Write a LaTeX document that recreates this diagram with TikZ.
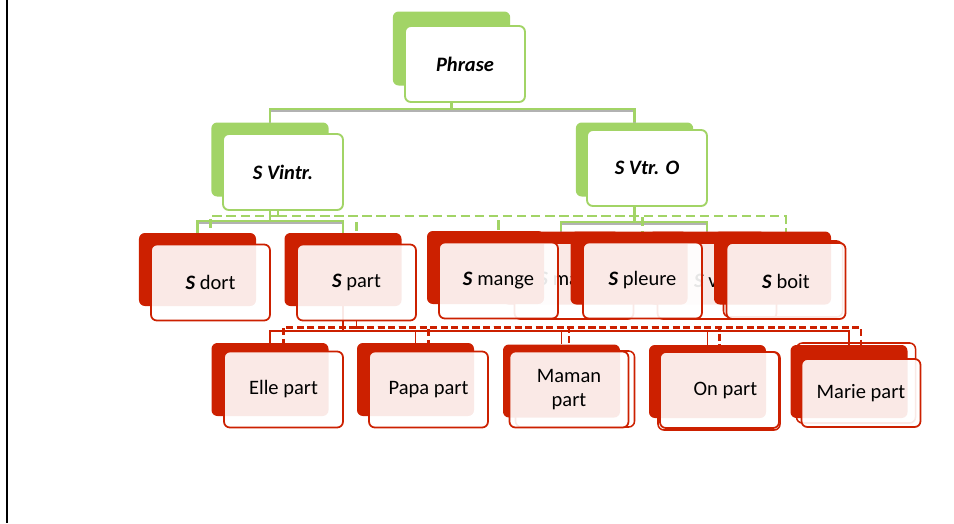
\documentclass[tikz,border=0pt]{standalone}
\usepackage{fontspec}
\setmainfont{Carlito}
\usetikzlibrary{backgrounds}
\definecolor{leafgreen}{RGB}{162,212,102}
\definecolor{deepred}{RGB}{204,32,0}
\tikzset{
  boxfont/.style={font=\fontsize{17.5}{20}\selectfont},
  greenback/.style={fill=leafgreen, rounded corners=5pt, minimum width=3.52cm, minimum height=2.22cm, inner sep=0pt},
  greenfront/.style={draw=leafgreen, line width=1.6pt, fill=white, rounded corners=5pt, minimum width=3.6cm, minimum height=2.28cm, inner sep=0pt, font=\fontsize{17.5}{20}\selectfont\bfseries\itshape},
  redback/.style={fill=deepred, rounded corners=5pt, minimum width=3.51cm, minimum height=2.19cm, inner sep=0pt},
  redfront/.style={draw=deepred, line width=1.5pt, fill=white, fill opacity=0.9, text opacity=1, rounded corners=5pt, minimum width=3.57cm, minimum height=2.28cm, inner sep=0pt, align=center},
  redcopy/.style={draw=deepred, line width=1.3pt, rounded corners=5pt, minimum width=3.57cm, minimum height=2.28cm, inner sep=0pt},
  greenbus/.style={draw=leafgreen, line width=2pt},
  greyshade/.style={draw=black!30, line width=1.8pt, transform canvas={yshift=-1.5pt}},
  greendash/.style={draw=leafgreen, line width=2pt, dash pattern=on 8pt off 4pt},
  redbus/.style={draw=deepred, line width=1.6pt},
  reddash/.style={draw=deepred, line width=1.8pt, dash pattern=on 6pt off 3pt},
}
\newcommand{\bS}{\textbf{\textit{S}}}
\begin{document}
\begin{tikzpicture}[x=0.03cm, y=-0.03cm, boxfont]
  \useasboundingbox (0,0) rectangle (954,523);
  \draw[black, line width=1.4pt] (7,0) -- (7,523);

  % top level
  \node[greenback] (phraseB) at (451.5,48.5) {};
  \node[greenfront] (phrase) at (465,64) {Phrase};
  \node[greenback] (vintrB) at (270,159.5) {};
  \node[greenfront] (vintr) at (283,172) {S Vintr.};
  \node[greenback] (vtroB) at (634.5,159.5) {};
  \node[greenfront] (vtro) at (647,168) {S Vtr. O};

  % second level (two half hidden boxes first)
  \node[redback] (ghostaB) at (561,268) {};
  \node[redfront] (ghosta) at (574,281) {\bS{} mange};
  \node[redback] (ghostbB) at (707,268) {};
  \node[redfront] (ghostb) at (717,281) {\bS{} voit};
  \node[redback] (dortB) at (197.5,269.5) {};
  \node[redfront] (dort) at (210.5,282.5) {\bS{} dort};
  \node[redback] (partB) at (343,269.5) {};
  \node[redfront] (part) at (356.5,282.5) {\bS{} part};
  \node[redback] (mangeB) at (485.5,267.5) {};
  \node[redfront] (mange) at (498.5,280.5) {\bS{} mange};
  \node[redback] (pleureB) at (629,268) {};
  \node[redfront] (pleure) at (642.5,280.5) {\bS{} pleure};
  \node[redback] (boitB) at (772.5,268) {};
  \node[redcopy] (boitcopy) at (783,279) {};
  \node[redfront] (boit) at (786,281) {\bS{} boit};

  % third level
  \node[redback] (elleB) at (270,379.5) {};
  \node[redfront] (elle) at (283.5,389.5) {Elle part};
  \node[redback] (papaB) at (415.5,379.5) {};
  \node[redfront] (papa) at (428.5,389.5) {Papa part};
  \node[redback] (mamanB) at (561.5,381) {};
  \node[redcopy] (mamancopy) at (575,389) {};
  \node[redfront] (maman) at (569,389.5) {Maman\\part};
  \node[redback] (onB) at (707.5,381.5) {};
  \node[redcopy, minimum width=3.66cm, minimum height=2.34cm] (oncopy) at (719,391) {};
  \node[redfront] (on) at (719.5,390) {\hspace{10pt}On part};
  \node[redback] (marieB) at (849,381.5) {};
  \node[redcopy, minimum height=2.4cm] (mariecopy) at (856,383) {};
  \node[redfront, minimum height=2.04cm] (marie) at (861,393) {Marie part};

  \begin{scope}[on background layer]
    % green links
    \coordinate (topbus) at (451.5,109);
    \draw[greyshade] (phraseB.south) -- (topbus) -| (vintrB.north);
    \draw[greyshade] (topbus) -| (vtroB.north);
    \draw[greenbus] (phraseB.south) -- (topbus) -| (vintrB.north);
    \draw[greenbus] (topbus) -| (vtroB.north);
    \coordinate (vintrbus) at (270,221);
    \draw[greyshade] (vintrB.south) -- (vintrbus) -| (dortB.north);
    \draw[greyshade] (vintrbus) -| (partB.north);
    \draw[greenbus] (vintrB.south) -- (vintrbus) -| (dortB.north);
    \draw[greenbus] (vintrbus) -| (partB.north);
    \coordinate (vtrobus) at (634.5,222);
    \draw[greyshade] (vtroB.south) -- (vtrobus) -| (ghostaB.north);
    \draw[greyshade] (vtrobus) -| (ghostbB.north);
    \draw[greenbus] (vtroB.south) -- (vtrobus) -| (ghostaB.north);
    \draw[greenbus] (vtrobus) -| (ghostbB.north);
    \coordinate (dashbus) at (278,216);
    \draw[greenbus] (vintr.south -| dashbus) -- (dashbus);
    \draw[greendash] (dashbus) -| (dort.north);
    \draw[greendash] (dashbus) -| (part.north);
    \draw[greendash] (dashbus) -| (mange.north);
    \draw[greendash] (dashbus) -| (pleure.north);
    \draw[greendash] (dashbus) -| (boit.north);
    % red links
    \coordinate (partbus) at (343,331);
    \draw[redbus] (partB.south) -- (partbus) -| (elleB.north);
    \draw[redbus] (partbus) -| (papaB.north);
    \draw[redbus] (partbus) -| (mamanB.north);
    \draw[redbus] (partbus) -| (onB.north);
    \draw[redbus] (partbus) -| (marieB.north);
    \coordinate (partdash) at (356.5,327.5);
    \draw[redbus] (part.south) -- (partdash);
    \draw[reddash] (partdash) -| (elle.north);
    \draw[reddash] (partdash) -| (papa.north);
    \draw[reddash] (partdash) -| (maman.north);
    \draw[reddash] (partdash) -| (on.north);
    \draw[reddash] (partdash) -| (marie.north);
  \end{scope}
\end{tikzpicture}
\end{document}
